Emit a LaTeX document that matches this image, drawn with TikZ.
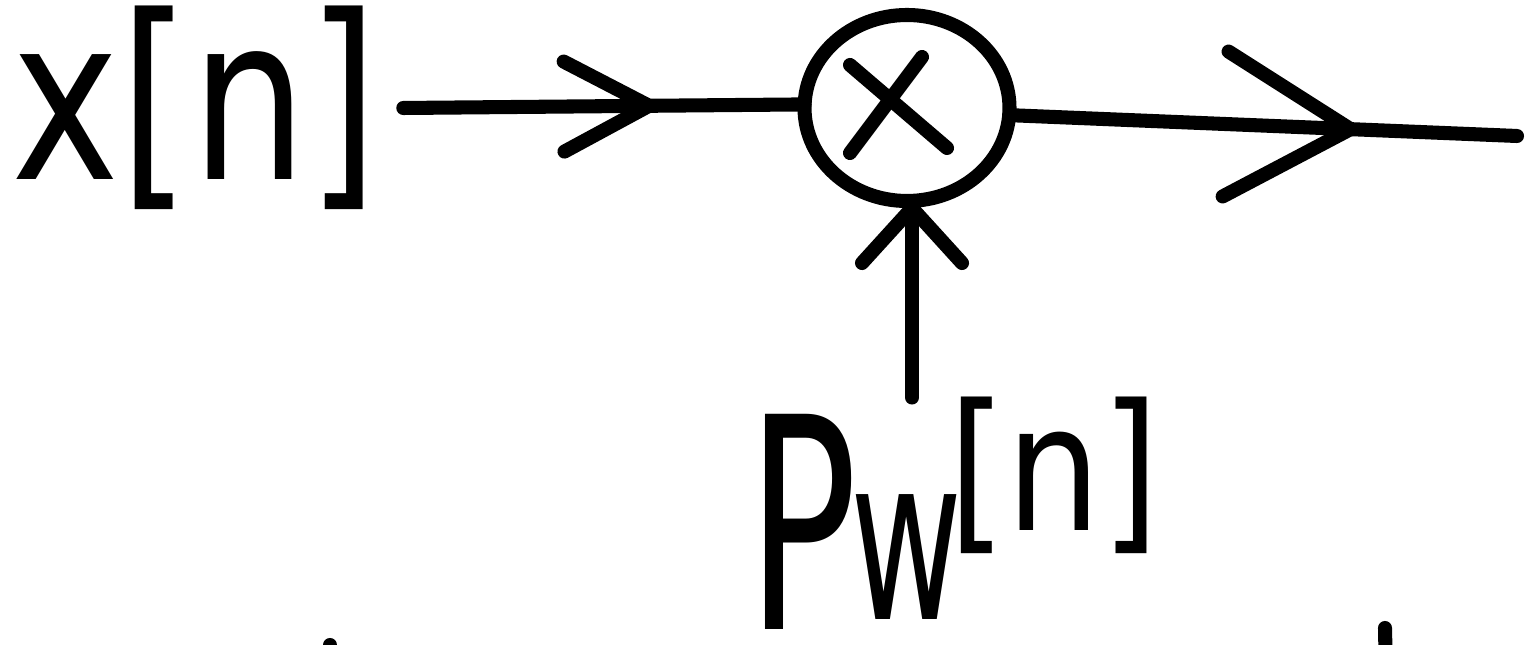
\documentclass[tikz,border=0pt]{standalone}
\usepackage{fontspec}
\newfontfamily\hand{DejaVu Sans}
\usetikzlibrary{arrows.meta,decorations.markings,shapes.geometric}
\tikzset{
  stroke/.style={line width=4pt, line cap=round, line join=round},
  midbarb/.style n args={3}{decoration={markings,
      mark=at position #1 with {\arrow{Straight Barb[length=#2,width=#3,round]}}},
      postaction=decorate},
  label/.style={inner sep=0pt, outer sep=0pt, font=\hand},
}
\begin{document}
\begin{tikzpicture}
\useasboundingbox (0,0) rectangle (15.3,-6.45);
% multiplier
\node[ellipse, draw, stroke, minimum width=2.05cm, minimum height=1.86cm,
      inner sep=0pt, outer sep=0pt] (mult) at (9.07,-1.08) {};
\draw[stroke] ([shift={(-0.57,0.43)}]mult.center) -- ([shift={(0.40,-0.40)}]mult.center);
\draw[stroke] ([shift={(0.15,0.51)}]mult.center) -- ([shift={(-0.57,-0.45)}]mult.center);
% input label
\node[label, inner xsep=0.25cm] (xn) at (1.95,-1.08)
  {\fontsize{52}{52}\selectfont\scalebox{1}[1.25]{x[n]}};
% window label
\node[label, anchor=base west] (pw) at (7.47,-6.30)
  {\fontsize{84}{84}\selectfont\scalebox{0.62}[1]{P}\kern-0.07cm%
   \raisebox{0.10cm}{\fontsize{65}{65}\selectfont\scalebox{0.6}[1]{w}}\kern-0.14cm%
   \raisebox{0.99cm}{\fontsize{50}{50}\selectfont\scalebox{0.85}[1]{[n]}}};
\coordinate (out) at (15.17,-1.36);
% connectors
\draw[stroke, midbarb={0.63}{8.5mm}{9mm}] (xn.east) -- (mult.178);
\draw[stroke, midbarb={0.686}{12.5mm}{14.5mm}] (mult.-4) -- (out);
\draw[stroke, -{Straight Barb[length=5.5mm,width=10mm,round]}] ([xshift=0.05cm]pw.north -| mult.south) -- ([xshift=0.05cm]mult.south);
% cut-off strokes at the lower edge
\begin{scope}
\clip (0,0) rectangle (15.3,-6.45);
\draw[stroke] (3.30,-6.45) -- (3.30,-6.8);
\draw[stroke] (13.85,-6.28) -- (13.86,-6.8);
\end{scope}
\end{tikzpicture}
\end{document}
